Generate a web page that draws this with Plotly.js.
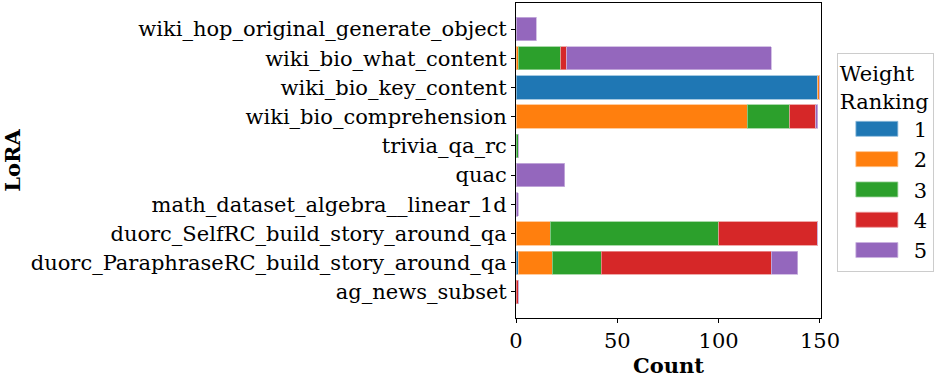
<!DOCTYPE html>
<html><head><meta charset="utf-8">
<script src="https://cdn.plot.ly/plotly-3.0.1.min.js"></script>
<style>body{margin:0;background:#fff}#chart{width:947px;height:379px}</style>
</head><body><div id="chart"></div>
<script>
const categories = ["wiki_hop_original_generate_object","wiki_bio_what_content","wiki_bio_key_content","wiki_bio_comprehension","trivia_qa_rc","quac","math_dataset_algebra__linear_1d","duorc_SelfRC_build_story_around_qa","duorc_ParaphraseRC_build_story_around_qa","ag_news_subset"];
const rank1 = [0, 0, 149, 0, 0, 0, 0, 0, 1, 0];
const rank2 = [0, 1, 1, 114, 0, 0, 0, 17, 17, 0];
const rank3 = [0, 21, 0, 21, 1, 0, 0, 83, 24, 0];
const rank4 = [0, 3, 0, 13, 0, 0, 0, 49, 84, 1];
const rank5 = [10, 101, 0, 1, 0, 24, 1, 0, 13, 0];
const seriesNames = ["1","2","3","4","5"];
const seriesValues = [rank1, rank2, rank3, rank4, rank5];
const colors = ["#1f77b4","#ff7f0e","#2ca02c","#d62728","#9467bd"];
const edgeColors = ["#8fbbda","#ffbf87","#95d095","#eb9394","#c9b3de"];
const xTicks = [0, 50, 100, 150];

const font = "DejaVu Serif, serif";
const traces = seriesValues.map((v, i) => ({
  type: "bar", orientation: "h", x: v, y: categories, name: seriesNames[i],
  marker: {color: colors[i], line: {color: edgeColors[i], width: 0.8}},
  hoverinfo: "skip"
}));
const layout = {
  width: 947, height: 379,
  margin: {l: 516, r: 126, t: 3, b: 61},
  barmode: "stack", bargap: 0.2,
  paper_bgcolor: "#fff", plot_bgcolor: "#fff",
  font: {family: font, size: 21, color: "#000"},
  xaxis: {range: [0, 150.5], tickvals: xTicks, ticks: "outside", ticklen: 4, tickcolor: "#000",
    showline: true, mirror: true, linecolor: "#000", linewidth: 1, showgrid: false, zeroline: false,
    title: {text: "<b>Count</b>", font: {family: font, size: 21}, standoff: 1}},
  yaxis: {type: "category", categoryorder: "array", categoryarray: categories, range: [9.89, -0.89],
    ticks: "outside", ticklen: 4, tickcolor: "#000", showline: true, mirror: true, linecolor: "#000",
    linewidth: 1, showgrid: false, zeroline: false,
    title: {text: "<b>LoRA</b>", font: {family: font, size: 21}, standoff: 101}},
  legend: {x: 1.052, y: 0.841, xanchor: "left", yanchor: "top", bordercolor: "#ccc", borderwidth: 1,
    title: {text: "Weight<br>Ranking", side: "top", font: {family: font, size: 21}},
    font: {family: font, size: 21}, traceorder: "normal", itemwidth: 66, tracegroupgap: 0},
  showlegend: true
};
Plotly.newPlot("chart", traces, layout, {staticPlot: true}).then(gd => {
  gd.querySelectorAll(".legend .legendpoints path").forEach(p => {
    p.setAttribute("d", "M22,7.5H-20V-7.5H22Z");
  });
});
</script></body></html>
